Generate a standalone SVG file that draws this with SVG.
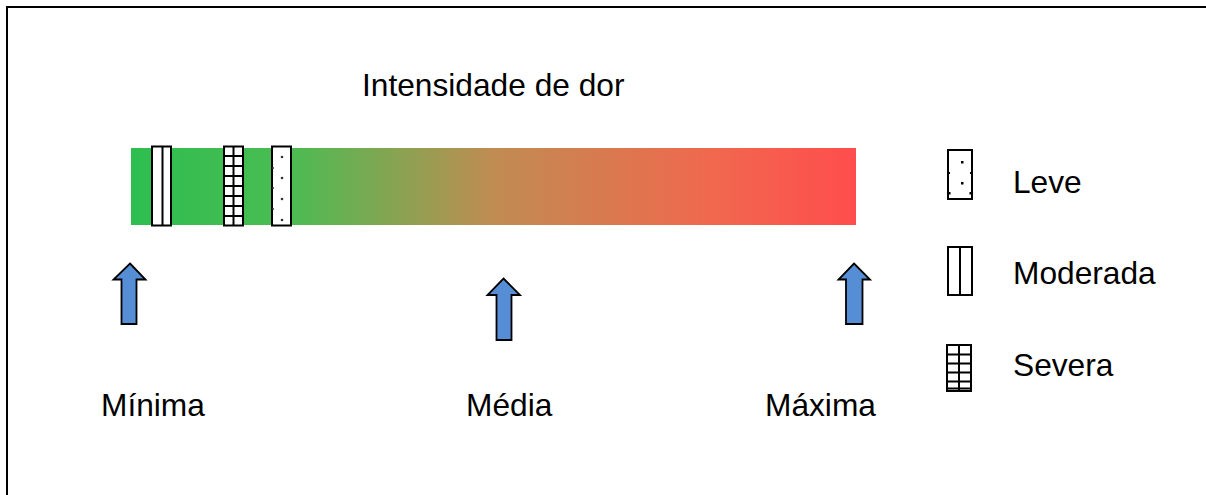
<svg xmlns="http://www.w3.org/2000/svg" width="1206" height="495" viewBox="0 0 1206 495">
<style>
.t{font-family:"Liberation Sans",Arial,sans-serif;font-size:31.7px;fill:#000}
.box{fill:#fff;stroke:#000;stroke-width:2}
.ln{stroke:#000;stroke-width:2;fill:none}
.arr{fill:#558ED5;stroke:#000;stroke-width:1.8;stroke-linejoin:miter}
.dot{fill:#333}
</style>
<defs>
<linearGradient id="g" x1="0" y1="0" x2="1" y2="0">
<stop offset="0" stop-color="#2DBE50"/>
<stop offset="0.22" stop-color="#4BBC52"/>
<stop offset="0.5" stop-color="#C08C52"/>
<stop offset="0.8" stop-color="#F0684E"/>
<stop offset="1" stop-color="#FF4D4D"/>
</linearGradient>
</defs>
<rect x="0" y="0" width="1206" height="495" fill="#fff"/>
<path d="M7 500V7H1210" fill="none" stroke="#000" stroke-width="2"/>
<g id="title"><text class="t" x="362" y="96">Intensidade de dor</text></g>
<g id="bar">
<rect x="131" y="148" width="725" height="77" fill="url(#g)"/>
</g>
<g id="bar-moderada">
<rect class="box" x="152" y="146.5" width="19" height="79"/>
<line class="ln" x1="162.5" y1="146.5" x2="162.5" y2="225.5" stroke-width="2.5"/>
</g>
<g id="bar-severa">
<rect class="box" x="224" y="146.5" width="19" height="79"/>
<path class="ln" d="M233.5 146.5V225.5M224 156H243M224 166H243M224 176H243M224 186H243M224 196H243M224 206H243M224 216H243" stroke-width="2.3"/>
</g>
<g id="bar-leve">
<rect class="box" x="272" y="146.5" width="19" height="79"/>
<circle class="dot" cx="282" cy="157" r="1.3"/>
<circle class="dot" cx="282" cy="178" r="1.3"/>
<circle class="dot" cx="282" cy="199" r="1.3"/>
<circle class="dot" cx="282" cy="220" r="1.3"/>
<circle class="dot" cx="273" cy="168" r="1"/>
<circle class="dot" cx="273" cy="188" r="1"/>
<circle class="dot" cx="273" cy="209" r="1"/>
</g>
<g id="legend-leve">
<rect class="box" x="948" y="150" width="24" height="49"/>
<rect x="961" y="161" width="2.5" height="2.5" fill="#000"/>
<rect x="961" y="182" width="2.5" height="2.5" fill="#000"/>
<rect x="948" y="172" width="2" height="2" fill="#000"/>
<rect x="970" y="172" width="2" height="2" fill="#000"/>
<rect x="948" y="192" width="2.5" height="2.5" fill="#000"/>
<rect x="969.5" y="192" width="2.5" height="2.5" fill="#000"/>
<text class="t" x="1013" y="193">Leve</text>
</g>
<g id="legend-moderada">
<rect class="box" x="948" y="247" width="24" height="48" stroke-width="2.5"/>
<line class="ln" x1="960" y1="247" x2="960" y2="295" stroke-width="3"/>
<text class="t" x="1013" y="284">Moderada</text>
</g>
<g id="legend-severa">
<rect class="box" x="947" y="345" width="24" height="46" stroke-width="3"/>
<path class="ln" d="M959 345V391M947 354.5H971M947 363.5H971M947 372.5H971M947 381.5H971M947 388.5H971" stroke-width="3"/>
<text class="t" x="1013" y="376">Severa</text>
</g>
<g id="connectors">
<path class="arr" d="M130 263.5L145.5 279.5H136.5V324H121.5V279.5H113.5Z"/>
<path class="arr" d="M503.5 278.5L520 295H511.5V340H496.5V295H487.5Z"/>
<path class="arr" d="M854 263.5L870 279.5H862.5V324H846V279.5H838.5Z"/>
</g>
<g id="labels">
<text class="t" x="101" y="416">Mínima</text>
<text class="t" x="466" y="416">Média</text>
<text class="t" x="765" y="416">Máxima</text>
</g>
</svg>
